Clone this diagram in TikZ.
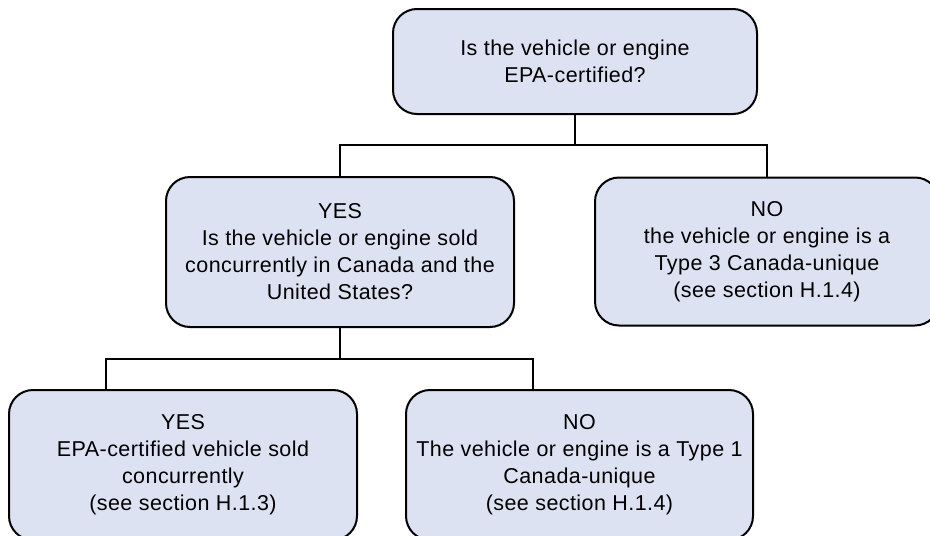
\documentclass[tikz,border=0pt]{standalone}
\usepackage{fontspec}
\setmainfont[LetterSpace=2]{Liberation Sans}
\definecolor{boxfill}{RGB}{221,226,243}
\begin{document}
\begin{tikzpicture}[x=1pt,y=-1pt,
  box/.style={draw=black, line width=2pt, fill=boxfill, rounded corners=24pt,
    align=center, inner sep=0pt, font=\fontsize{21.5}{27}\selectfont},
  link/.style={draw=black, line width=2pt}]
\useasboundingbox (0,0) rectangle (930,536);
\begin{scope}
\clip (0,0) rectangle (930,536);
\node[box, minimum width=364pt, minimum height=105pt] (top) at (575,61.5)
  {Is the vehicle or engine\\EPA-certified?};
\node[box, minimum width=348pt, minimum height=150pt] (midL) at (340,252)
  {YES\\Is the vehicle or engine sold\\concurrently in Canada and the\\United States?};
\node[box, minimum width=344pt, minimum height=148pt] (midR) at (767,251.5)
  {NO\\the vehicle or engine is a\\Type 3 Canada-unique\\(see section H.1.4)};
\node[box, minimum width=348pt, minimum height=150pt] (botL) at (183,465)
  {YES\\EPA-certified vehicle sold\\concurrently\\(see section H.1.3)};
\node[box, minimum width=347pt, minimum height=150pt] (botR) at (579.5,465)
  {NO\\The vehicle or engine is a Type 1\\Canada-unique\\(see section H.1.4)};
\coordinate (j1) at (575,145);
\coordinate (j2) at (340,359);
\draw[link] (top.south) -- (j1);
\draw[link] (midL.north) |- (j1) -| (midR.north);
\draw[link] (midL.south) -- (j2);
\draw[link] ([xshift=-77pt]botL.north) |- (j2) -| ([xshift=-46.5pt]botR.north);
\end{scope}
\end{tikzpicture}
\end{document}
